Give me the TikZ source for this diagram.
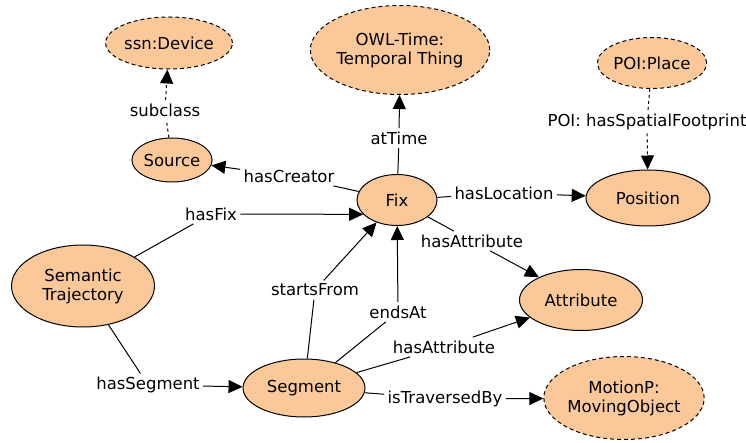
\documentclass[tikz,border=0pt]{standalone}
\usepackage{fontspec}
\setmainfont{DejaVu Sans}
\usepackage{xcolor}
\usetikzlibrary{arrows.meta, shapes}
\definecolor{peach}{RGB}{251,201,153}
\begin{document}
\begin{tikzpicture}[x=1pt,y=-1pt,line width=1pt,
		>={Triangle[width=13pt,length=14pt]},font=\fontsize{16.5}{19}\selectfont]
		\tikzstyle{cls}=[ellipse,draw=black,fill=peach,inner sep=0pt,align=center]
		\tikzstyle{ext}=[cls,dash pattern=on 4pt off 3pt]
		\tikzstyle{lbl}=[inner sep=3pt]
		\useasboundingbox (0,0) rectangle (746,443);
		
		\node[ext,minimum width=112,minimum height=52] (dev)   at (169,43)  {ssn:Device};
		\node[ext,minimum width=169,minimum height=89] (owl)   at (400,50)  {OWL-Time:\\Temporal Thing};
		\node[ext,minimum width=99,minimum height=51]  (place) at (652,63)  {POI:Place};
		\node[cls,minimum width=79,minimum height=44]  (src)   at (172,160) {Source};
		\node[cls,minimum width=80,minimum height=51]  (fix)   at (397,200) {Fix};
		\node[cls,minimum width=124,minimum height=56] (pos)   at (648,198) {Position};
		\node[cls,minimum width=143,minimum height=82] (traj)  at (83,286)  {Semantic\\Trajectory};
		\node[cls,minimum width=123,minimum height=61] (attr)  at (581,300) {Attribute};
		\node[cls,minimum width=122,minimum height=58] (seg)   at (304,388) {Segment};
		\node[ext,minimum width=149,minimum height=83] (mov)   at (624,398) {MotionP:\\MovingObject};
		
		\node[lbl] (lSub)   at (165,110) {subclass};
		\node[lbl] (lTime)  at (399,138) {atTime};
		\node[lbl] (lCre)   at (289,176) {hasCreator};
		\node[lbl] (lLoc)   at (504,193) {hasLocation};
		\node[lbl] (lFoot)  at (647,122) {POI: hasSpatialFootprint};
		\node[lbl] (lFix)   at (211,214) {hasFix};
		\node[lbl] (lSeg)   at (148,385) {hasSegment};
		\node[lbl] (lStart) at (315,290) {startsFrom};
		\node[lbl] (lEnd)   at (398,312) {endsAt};
		\node[lbl] (lAttrA) at (472,241) {hasAttribute};
		\node[lbl] (lAttrB) at (444,347) {hasAttribute};
		\node[lbl] (lTrav)  at (445,399) {isTraversedBy};
		
		\draw[dashed] (src) -- (lSub);
		\draw[dashed,->] (lSub) -- (dev);
		\draw (fix) -- (lTime);
		\draw[->] (lTime) -- (owl);
		\draw (fix) -- (lCre);
		\draw[->] (lCre) -- (src);
		\draw (fix) -- (lLoc);
		\draw[->] (lLoc) -- (pos);
		\draw[dashed] (place) -- (lFoot);
		\draw[dashed,->] (lFoot) -- (pos);
		\draw (traj) -- (lFix);
		\draw[->] (lFix) -- (fix.203);
		\draw (traj) -- (lSeg);
		\draw[->] (lSeg) -- (seg);
		\draw (seg) -- (lStart);
		\draw[->] (lStart) -- (fix);
		\draw (seg) -- (lEnd);
		\draw[->] (lEnd) -- (fix);
		\draw (fix) -- (lAttrA);
		\draw[->] (lAttrA) -- (attr);
		\draw (seg) -- (lAttrB);
		\draw[->] (lAttrB) -- (attr);
		\draw (seg) -- (lTrav);
		\draw[->] (lTrav) -- (mov);
\end{tikzpicture}
\end{document}
